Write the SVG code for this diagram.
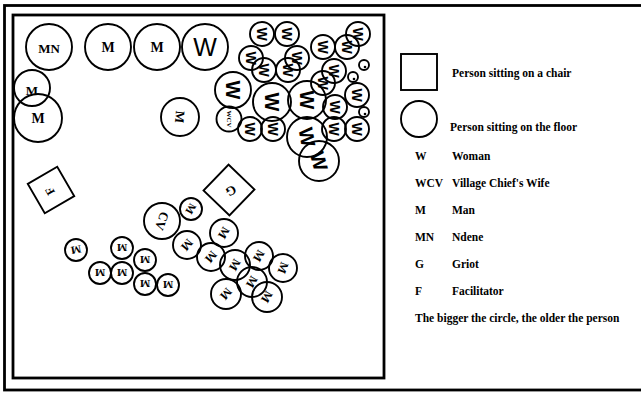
<svg xmlns="http://www.w3.org/2000/svg" width="641" height="393" viewBox="0 0 641 393">
<style>
.frame{fill:none;stroke:#000;stroke-width:2.8}
.pn{fill:none;stroke:#000;stroke-width:1.9}
.lbl{font-family:"Liberation Serif",serif;font-weight:bold;text-anchor:middle;dominant-baseline:central;fill:#000}
.big{font-family:"Liberation Sans",sans-serif;font-weight:normal;text-anchor:middle;dominant-baseline:central;fill:#000}
.wl{font-family:"Liberation Sans",sans-serif;font-weight:bold;text-anchor:middle;dominant-baseline:central;fill:#000}
.leg{font-family:"Liberation Serif",serif;font-weight:bold;font-size:11.5px;fill:#000}
.dot{fill:#000}
</style>
<rect width="641" height="393" fill="#fff"/>
<rect class="frame" x="4.5" y="5.5" width="650" height="384.5"/>
<rect class="frame" x="13" y="15" width="371" height="363"/>

<!-- top row -->
<g id="mn"><circle class="pn" cx="49" cy="47" r="23"/><text class="lbl" x="49" y="48" font-size="13">MN</text></g>
<g id="m1"><circle class="pn" cx="108" cy="47" r="23"/><text class="lbl" x="108" y="47" font-size="14">M</text></g>
<g id="m2"><circle class="pn" cx="157" cy="47" r="23"/><text class="lbl" x="157" y="47" font-size="14">M</text></g>
<g id="w-top"><circle class="pn" cx="205" cy="47" r="23"/><text class="big" x="205" y="47" font-size="25">W</text></g>
<g id="m3"><circle class="pn" cx="32" cy="88" r="18"/><text class="lbl" x="32" y="90" font-size="13">M</text></g>
<g id="m4"><circle class="pn" cx="38" cy="118" r="24"/><text class="lbl" x="38" y="118" font-size="14">M</text></g>
<g id="m5"><circle class="pn" cx="180" cy="117" r="19"/><text class="lbl" font-size="13" transform="translate(180 117) rotate(95)">M</text></g>

<!-- women cluster -->
<g id="women">
<g id="w1"><circle class="pn" cx="262" cy="34" r="12"/><text class="wl" font-size="14" transform="translate(262 34) rotate(90)">W</text></g>
<g id="w2"><circle class="pn" cx="287" cy="34" r="12"/><text class="wl" font-size="14" transform="translate(287 34) rotate(90)">W</text></g>
<g id="w3"><circle class="pn" cx="251" cy="58" r="12"/><text class="wl" font-size="14" transform="translate(251 58) rotate(90)">W</text></g>
<g id="w4"><circle class="pn" cx="297" cy="58" r="12"/><text class="wl" font-size="14" transform="translate(297 58) rotate(90)">W</text></g>
<g id="w5"><circle class="pn" cx="264" cy="70" r="12"/><text class="wl" font-size="14" transform="translate(264 70) rotate(90)">W</text></g>
<g id="w6"><circle class="pn" cx="288" cy="70" r="12"/><text class="wl" font-size="14" transform="translate(288 70) rotate(90)">W</text></g>
<g id="w7"><circle class="pn" cx="323" cy="47" r="12"/><text class="wl" font-size="14" transform="translate(323 47) rotate(90)">W</text></g>
<g id="w8"><circle class="pn" cx="347" cy="47" r="12"/><text class="wl" font-size="14" transform="translate(347 47) rotate(90)">W</text></g>
<g id="w9"><circle class="pn" cx="358" cy="34" r="12"/><text class="wl" font-size="14" transform="translate(358 34) rotate(90)">W</text></g>
<g id="s1"><circle class="pn" cx="364" cy="65" r="5"/><circle class="dot" cx="365" cy="67" r="1.3"/></g>
<g id="s2"><circle class="pn" cx="353" cy="77" r="5"/><circle class="dot" cx="354" cy="79" r="1.3"/></g>
<g id="w10"><circle class="pn" cx="334" cy="71" r="12"/><text class="wl" font-size="14" transform="translate(334 71) rotate(90)">W</text></g>
<g id="w11"><circle class="pn" cx="323" cy="83" r="12"/><text class="wl" font-size="14" transform="translate(323 83) rotate(90)">W</text></g>
<g id="w12"><circle class="pn" cx="233" cy="90" r="18"/><text class="wl" font-size="20" transform="translate(233 90) rotate(90)">W</text></g>
<g id="w13"><circle class="pn" cx="272" cy="102" r="19"/><text class="wl" font-size="20" transform="translate(272 102) rotate(90)">W</text></g>
<g id="w14"><circle class="pn" cx="307" cy="100" r="19"/><text class="wl" font-size="20" transform="translate(307 100) rotate(90)">W</text></g>
<g id="w15"><circle class="pn" cx="357" cy="95" r="12"/><text class="wl" font-size="14" transform="translate(357 95) rotate(90)">W</text></g>
<g id="w16"><circle class="pn" cx="335" cy="107" r="12"/><text class="wl" font-size="14" transform="translate(335 107) rotate(90)">W</text></g>
<g id="s3"><circle class="pn" cx="364" cy="112" r="5"/><circle class="dot" cx="365" cy="114" r="1.3"/></g>
<g id="wcv"><circle class="pn" cx="229" cy="119" r="12.5"/><text class="lbl" font-size="7" transform="translate(229 119) rotate(90)">WCV</text></g>
<g id="w17"><circle class="pn" cx="250" cy="129" r="12"/><text class="wl" font-size="14" transform="translate(250 129) rotate(90)">W</text></g>
<g id="w18"><circle class="pn" cx="273" cy="129" r="12"/><text class="wl" font-size="14" transform="translate(273 129) rotate(90)">W</text></g>
<g id="w19"><circle class="pn" cx="334" cy="129" r="12"/><text class="wl" font-size="14" transform="translate(334 129) rotate(90)">W</text></g>
<g id="w20"><circle class="pn" cx="357" cy="129" r="12"/><text class="wl" font-size="14" transform="translate(357 129) rotate(90)">W</text></g>
<g id="w21"><circle class="pn" cx="307" cy="137" r="20"/><text class="wl" font-size="20" transform="translate(307 137) rotate(80)">W</text></g>
<g id="w22"><circle class="pn" cx="319" cy="161" r="20"/><text class="wl" font-size="20" transform="translate(319 161) rotate(75)">W</text></g>
</g>

<!-- chairs -->
<g id="f"><rect class="pn" x="-17" y="-17" width="34" height="34" transform="translate(51 190) rotate(-30)"/><text class="lbl" font-size="12" transform="translate(50 191) rotate(-120)">F</text></g>
<g id="g"><rect class="pn" x="-18" y="-18" width="36" height="36" transform="translate(229 190) rotate(-46)"/><text class="lbl" font-size="13" transform="translate(231 191) rotate(150)">G</text></g>

<!-- lower men groups -->
<g id="cv"><circle class="pn" cx="162" cy="221" r="18"/><text class="lbl" font-size="13" transform="translate(162 221) rotate(110)">CV</text></g>
<g id="lm1"><circle class="pn" cx="191" cy="209" r="11"/><text class="lbl" font-size="11" transform="translate(191 209) rotate(120)">M</text></g>
<g id="lm2"><circle class="pn" cx="187" cy="245" r="14"/><text class="lbl" font-size="12" transform="translate(187 245) rotate(130)">M</text></g>
<g id="lm3"><circle class="pn" cx="224" cy="233" r="14"/><text class="lbl" font-size="12" transform="translate(224 233) rotate(120)">M</text></g>
<g id="lm4"><circle class="pn" cx="211" cy="257" r="14"/><text class="lbl" font-size="12" transform="translate(211 257) rotate(130)">M</text></g>
<g id="lm5"><circle class="pn" cx="235" cy="265" r="15"/><text class="lbl" font-size="12" transform="translate(235 265) rotate(120)">M</text></g>
<g id="lm6"><circle class="pn" cx="259" cy="256" r="14"/><text class="lbl" font-size="12" transform="translate(259 256) rotate(120)">M</text></g>
<g id="lm7"><circle class="pn" cx="283" cy="268" r="14"/><text class="lbl" font-size="12" transform="translate(283 268) rotate(110)">M</text></g>
<g id="lm8"><circle class="pn" cx="252" cy="282" r="15"/><text class="lbl" font-size="12" transform="translate(252 282) rotate(120)">M</text></g>
<g id="lm9"><circle class="pn" cx="226" cy="294" r="15"/><text class="lbl" font-size="12" transform="translate(226 294) rotate(130)">M</text></g>
<g id="lm10"><circle class="pn" cx="267" cy="297" r="15"/><text class="lbl" font-size="12" transform="translate(267 297) rotate(120)">M</text></g>

<g id="sm1"><circle class="pn" cx="76" cy="250" r="11"/><text class="lbl" font-size="11" transform="translate(76 250) rotate(170)">M</text></g>
<g id="sm2"><circle class="pn" cx="122" cy="248" r="11"/><text class="lbl" font-size="11" transform="translate(122 248) rotate(180)">M</text></g>
<g id="sm3"><circle class="pn" cx="100" cy="273" r="11"/><text class="lbl" font-size="11" transform="translate(100 273) rotate(180)">M</text></g>
<g id="sm4"><circle class="pn" cx="122" cy="273" r="11"/><text class="lbl" font-size="11" transform="translate(122 273) rotate(180)">M</text></g>
<g id="sm5"><circle class="pn" cx="145" cy="260" r="11"/><text class="lbl" font-size="11" transform="translate(145 260) rotate(180)">M</text></g>
<g id="sm6"><circle class="pn" cx="145" cy="284" r="11"/><text class="lbl" font-size="11" transform="translate(145 284) rotate(180)">M</text></g>
<g id="sm7"><circle class="pn" cx="168" cy="285" r="11"/><text class="lbl" font-size="11" transform="translate(168 285) rotate(180)">M</text></g>

<!-- legend -->
<g id="legend">
<rect class="pn" x="401" y="54" width="36" height="36"/>
<text class="leg" x="452" y="77">Person sitting on a chair</text>
<circle class="pn" cx="419" cy="119" r="18"/>
<text class="leg" x="450" y="131">Person sitting on the floor</text>
<text class="leg" x="415" y="160">W</text><text class="leg" x="452" y="160">Woman</text>
<text class="leg" x="415" y="187">WCV</text><text class="leg" x="452" y="187">Village Chief's Wife</text>
<text class="leg" x="415" y="214">M</text><text class="leg" x="452" y="214">Man</text>
<text class="leg" x="415" y="241">MN</text><text class="leg" x="452" y="241">Ndene</text>
<text class="leg" x="415" y="268">G</text><text class="leg" x="452" y="268">Griot</text>
<text class="leg" x="415" y="295">F</text><text class="leg" x="452" y="295">Facilitator</text>
<text class="leg" x="415" y="322">The bigger the circle, the older the person</text>
</g>
</svg>
